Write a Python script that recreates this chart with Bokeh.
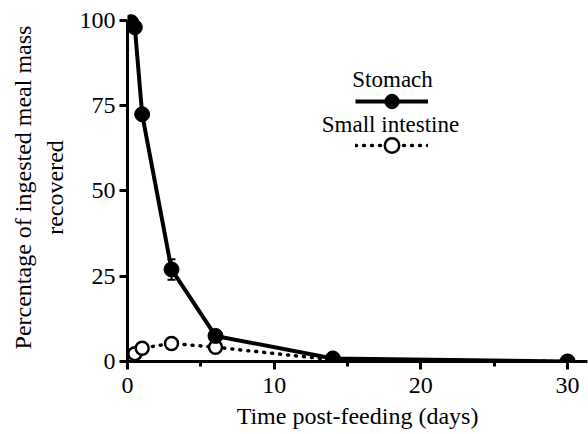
import numpy as np
from bokeh.plotting import figure
from bokeh.models import (Range1d, FixedTicker, Label, Legend, LegendItem,
                          Whisker, ColumnDataSource, TeeHead)
from bokeh.embed import file_html
from bokeh.resources import INLINE

# ---- data ----
days = [0.25, 0.5, 1, 3, 6, 14, 30]
stomach = [99.5, 98, 72.5, 27, 7.5, 0.9, 0]
stomach_err = [0, 0, 1, 3, 1, 0.4, 0]
small_intestine = [1.5, 2.3, 3.9, 5.3, 4.2, 0.5, 0]
x_ticks = [0, 10, 20, 30]
x_minor_ticks = [5, 15, 25]
y_ticks = [0, 25, 50, 75, 100]
series_names = ["Stomach", "Small intestine"]
x_title = "Time post-feeding (days)"
y_title = "Percentage of ingested meal mass\nrecovered"

FONT = "Liberation Serif"

p = figure(width=588, height=434,
           x_range=Range1d(0, 31.36), y_range=Range1d(0, 102.05),
           output_backend="svg", toolbar_location=None,
           min_border_left=127, min_border_right=1,
           min_border_top=13, min_border_bottom=73)
p.outline_line_color = None
p.xgrid.grid_line_color = None
p.ygrid.grid_line_color = None
p.background_fill_color = "white"

for ax in (p.xaxis, p.yaxis):
    ax.axis_line_width = 3
    ax.major_tick_line_width = 3
    ax.minor_tick_line_width = 3
    ax.major_tick_in = 0
    ax.major_tick_out = 8
    ax.minor_tick_in = 0
    ax.major_label_text_font = FONT
    ax.major_label_text_font_size = "24px"
    ax.major_label_text_color = "black"
    ax.axis_line_color = "black"
    ax.major_tick_line_color = "black"
    ax.minor_tick_line_color = "black"
    ax.axis_label_text_font = FONT
    ax.axis_label_text_font_size = "24px"
    ax.axis_label_text_font_style = "normal"
    ax.axis_label_text_color = "black"

p.xaxis.bounds = (0, 31.36)
p.yaxis.bounds = (0, 100)
p.xaxis.ticker = FixedTicker(ticks=x_ticks, minor_ticks=x_minor_ticks)
p.yaxis.ticker = FixedTicker(ticks=y_ticks, minor_ticks=[])
p.xaxis.minor_tick_out = 5
p.yaxis.minor_tick_out = 0
p.xaxis.major_label_standoff = 8
p.yaxis.major_label_standoff = 4
p.xaxis.axis_label = x_title
p.yaxis.axis_label = y_title
p.xaxis.axis_label_standoff = 7
p.yaxis.axis_label_standoff = 9

src = ColumnDataSource(dict(
    days=days, stomach=stomach, small=small_intestine,
    upper=[s + e for s, e in zip(stomach, stomach_err)],
    lower=[s - e for s, e in zip(stomach, stomach_err)],
))

r_line_i = p.line("days", "small", source=src, line_color="black",
                  line_width=3.5, line_dash="1 7", line_cap="round")
r_line_s = p.line("days", "stomach", source=src, line_color="black",
                  line_width=4)
wh = Whisker(source=src, base="days", upper="upper", lower="lower",
             line_color="black", line_width=2,
             upper_head=TeeHead(size=8, line_width=2, line_color="black"),
             lower_head=TeeHead(size=8, line_width=2, line_color="black"))
p.add_layout(wh)
r_pts_i = p.scatter("days", "small", source=src, marker="circle", size=13,
                    fill_color="white", line_color="black", line_width=2.5)
r_pts_s = p.scatter("days", "stomach", source=src, marker="circle", size=15,
                    fill_color="black", line_color="black")

legend = Legend(items=[LegendItem(label=" ", renderers=[r_line_s, r_pts_s]),
                       LegendItem(label=" ", renderers=[r_line_i, r_pts_i])],
                location=(228, 198), orientation="vertical",
                glyph_width=73, glyph_height=36, spacing=8,
                padding=0, margin=0, label_standoff=0,
                label_width=0, label_height=0,
                label_text_font_size="8px",
                border_line_alpha=0, background_fill_alpha=0)
p.add_layout(legend)

# legend texts above keys
p.add_layout(Label(x=18.07, y=82.6, text=series_names[0], text_align="center",
                   text_baseline="alphabetic", text_font=FONT,
                   text_font_size="23px", text_color="black"))
p.add_layout(Label(x=17.93, y=69.6, text=series_names[1], text_align="center",
                   text_baseline="alphabetic", text_font=FONT,
                   text_font_size="23px", text_color="black"))

open("out.html", "w").write(file_html(p, INLINE))
